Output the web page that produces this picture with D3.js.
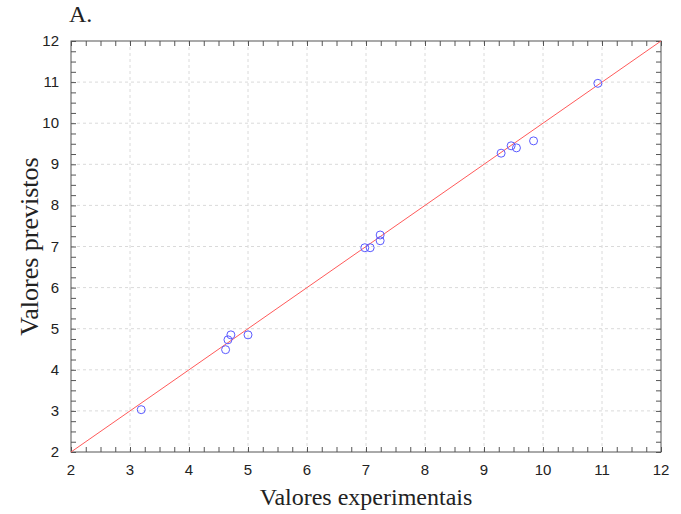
<!DOCTYPE html>
<html lang="en">
<head>
<meta charset="utf-8">
<title>Valores previstos vs experimentais</title>
<script type="text/javascript" src="https://cdn.jsdelivr.net/npm/d3@7"></script>
<style>
body{margin:0;background:#fff;}
</style>
</head>
<body>
<script type="text/javascript">
var experimentais = [3.19, 4.71, 4.66, 4.62, 5.00, 6.98, 7.07, 7.24, 7.24, 9.29, 9.46, 9.55, 9.84, 10.93];
var previstos     = [3.03, 4.85, 4.73, 4.49, 4.85, 6.97, 6.97, 7.28, 7.14, 9.27, 9.45, 9.40, 9.57, 10.97];
var ticks = [2, 3, 4, 5, 6, 7, 8, 9, 10, 11, 12];
var identidade = [2, 12]; // line y = x

var w = 681, h = 514;
var m = {top: 41, right: 20, bottom: 62, left: 71};

var svg = d3.select("body").append("svg")
  .attr("width", w)
  .attr("height", h);

var x = d3.scaleLinear().domain([2, 12]).range([m.left, w - m.right]);
var y = d3.scaleLinear().domain([2, 12]).range([h - m.bottom, m.top]);

var minor = d3.range(2, 12.001, 0.25);

// grid
svg.append("g").selectAll("line.gx")
  .data(ticks.slice(1, -1))
  .enter().append("line")
  .attr("x1", d => x(d)).attr("x2", d => x(d))
  .attr("y1", y(2)).attr("y2", y(12))
  .attr("stroke", "#dadada").attr("stroke-dasharray", "3,3");
svg.append("g").selectAll("line.gy")
  .data(ticks.slice(1, -1))
  .enter().append("line")
  .attr("y1", d => y(d)).attr("y2", d => y(d))
  .attr("x1", x(2)).attr("x2", x(12))
  .attr("stroke", "#dadada").attr("stroke-dasharray", "3,3");

// axes with inward ticks
function styleAxis(g) {
  g.select(".domain").remove();
  g.selectAll(".tick line").attr("stroke", "#555");
}
svg.append("g")
  .attr("transform", "translate(0," + y(2) + ")")
  .call(d3.axisBottom(x).tickValues(minor).tickSizeInner(-5).tickSizeOuter(0).tickFormat(""))
  .call(styleAxis);
svg.append("g")
  .attr("transform", "translate(0," + y(12) + ")")
  .call(d3.axisTop(x).tickValues(minor).tickSizeInner(-5).tickSizeOuter(0).tickFormat(""))
  .call(styleAxis);
svg.append("g")
  .attr("transform", "translate(" + x(2) + ",0)")
  .call(d3.axisLeft(y).tickValues(minor).tickSizeInner(-5).tickSizeOuter(0).tickFormat(""))
  .call(styleAxis);
svg.append("g")
  .attr("transform", "translate(" + x(12) + ",0)")
  .call(d3.axisRight(y).tickValues(minor).tickSizeInner(-5).tickSizeOuter(0).tickFormat(""))
  .call(styleAxis);

// tick labels
svg.append("g").selectAll("text")
  .data(ticks).enter().append("text")
  .attr("x", d => x(d)).attr("y", y(2) + 23)
  .attr("text-anchor", "middle")
  .attr("font-family", "Liberation Sans, Arial, sans-serif")
  .attr("font-size", "15px").attr("fill", "#222")
  .text(d => d);
svg.append("g").selectAll("text")
  .data(ticks).enter().append("text")
  .attr("x", x(2) - 12).attr("y", d => y(d) + 5)
  .attr("text-anchor", "end")
  .attr("font-family", "Liberation Sans, Arial, sans-serif")
  .attr("font-size", "15px").attr("fill", "#222")
  .text(d => d);

// frame
svg.append("rect")
  .attr("x", x(2)).attr("y", y(12))
  .attr("width", x(12) - x(2)).attr("height", y(2) - y(12))
  .attr("fill", "none").attr("stroke", "#555").attr("stroke-width", 1);

// y = x line
svg.append("path")
  .datum(identidade)
  .attr("d", d3.line().x(d => x(d)).y(d => y(d)))
  .attr("fill", "none").attr("stroke", "#ff5a5a").attr("stroke-width", 1);

// points
svg.append("g").selectAll("circle")
  .data(experimentais).enter().append("circle")
  .attr("cx", d => x(d))
  .attr("cy", (d, i) => y(previstos[i]))
  .attr("r", 4)
  .attr("fill", "none").attr("stroke", "#5a5aff").attr("stroke-width", 1);

// titles
svg.append("text")
  .attr("x", x(7)).attr("y", 505)
  .attr("text-anchor", "middle")
  .attr("font-family", "Liberation Serif, Times New Roman, serif")
  .attr("font-size", "24px").attr("fill", "#222")
  .text("Valores experimentais");
svg.append("text")
  .attr("transform", "translate(38," + y(7) + ") rotate(-90)")
  .attr("text-anchor", "middle")
  .attr("font-family", "Liberation Serif, Times New Roman, serif")
  .attr("font-size", "26px").attr("fill", "#222")
  .text("Valores previstos");
svg.append("text")
  .attr("x", 69).attr("y", 22)
  .attr("font-family", "Liberation Serif, Times New Roman, serif")
  .attr("font-size", "24px").attr("fill", "#222")
  .text("A.");
</script>
</body>
</html>
